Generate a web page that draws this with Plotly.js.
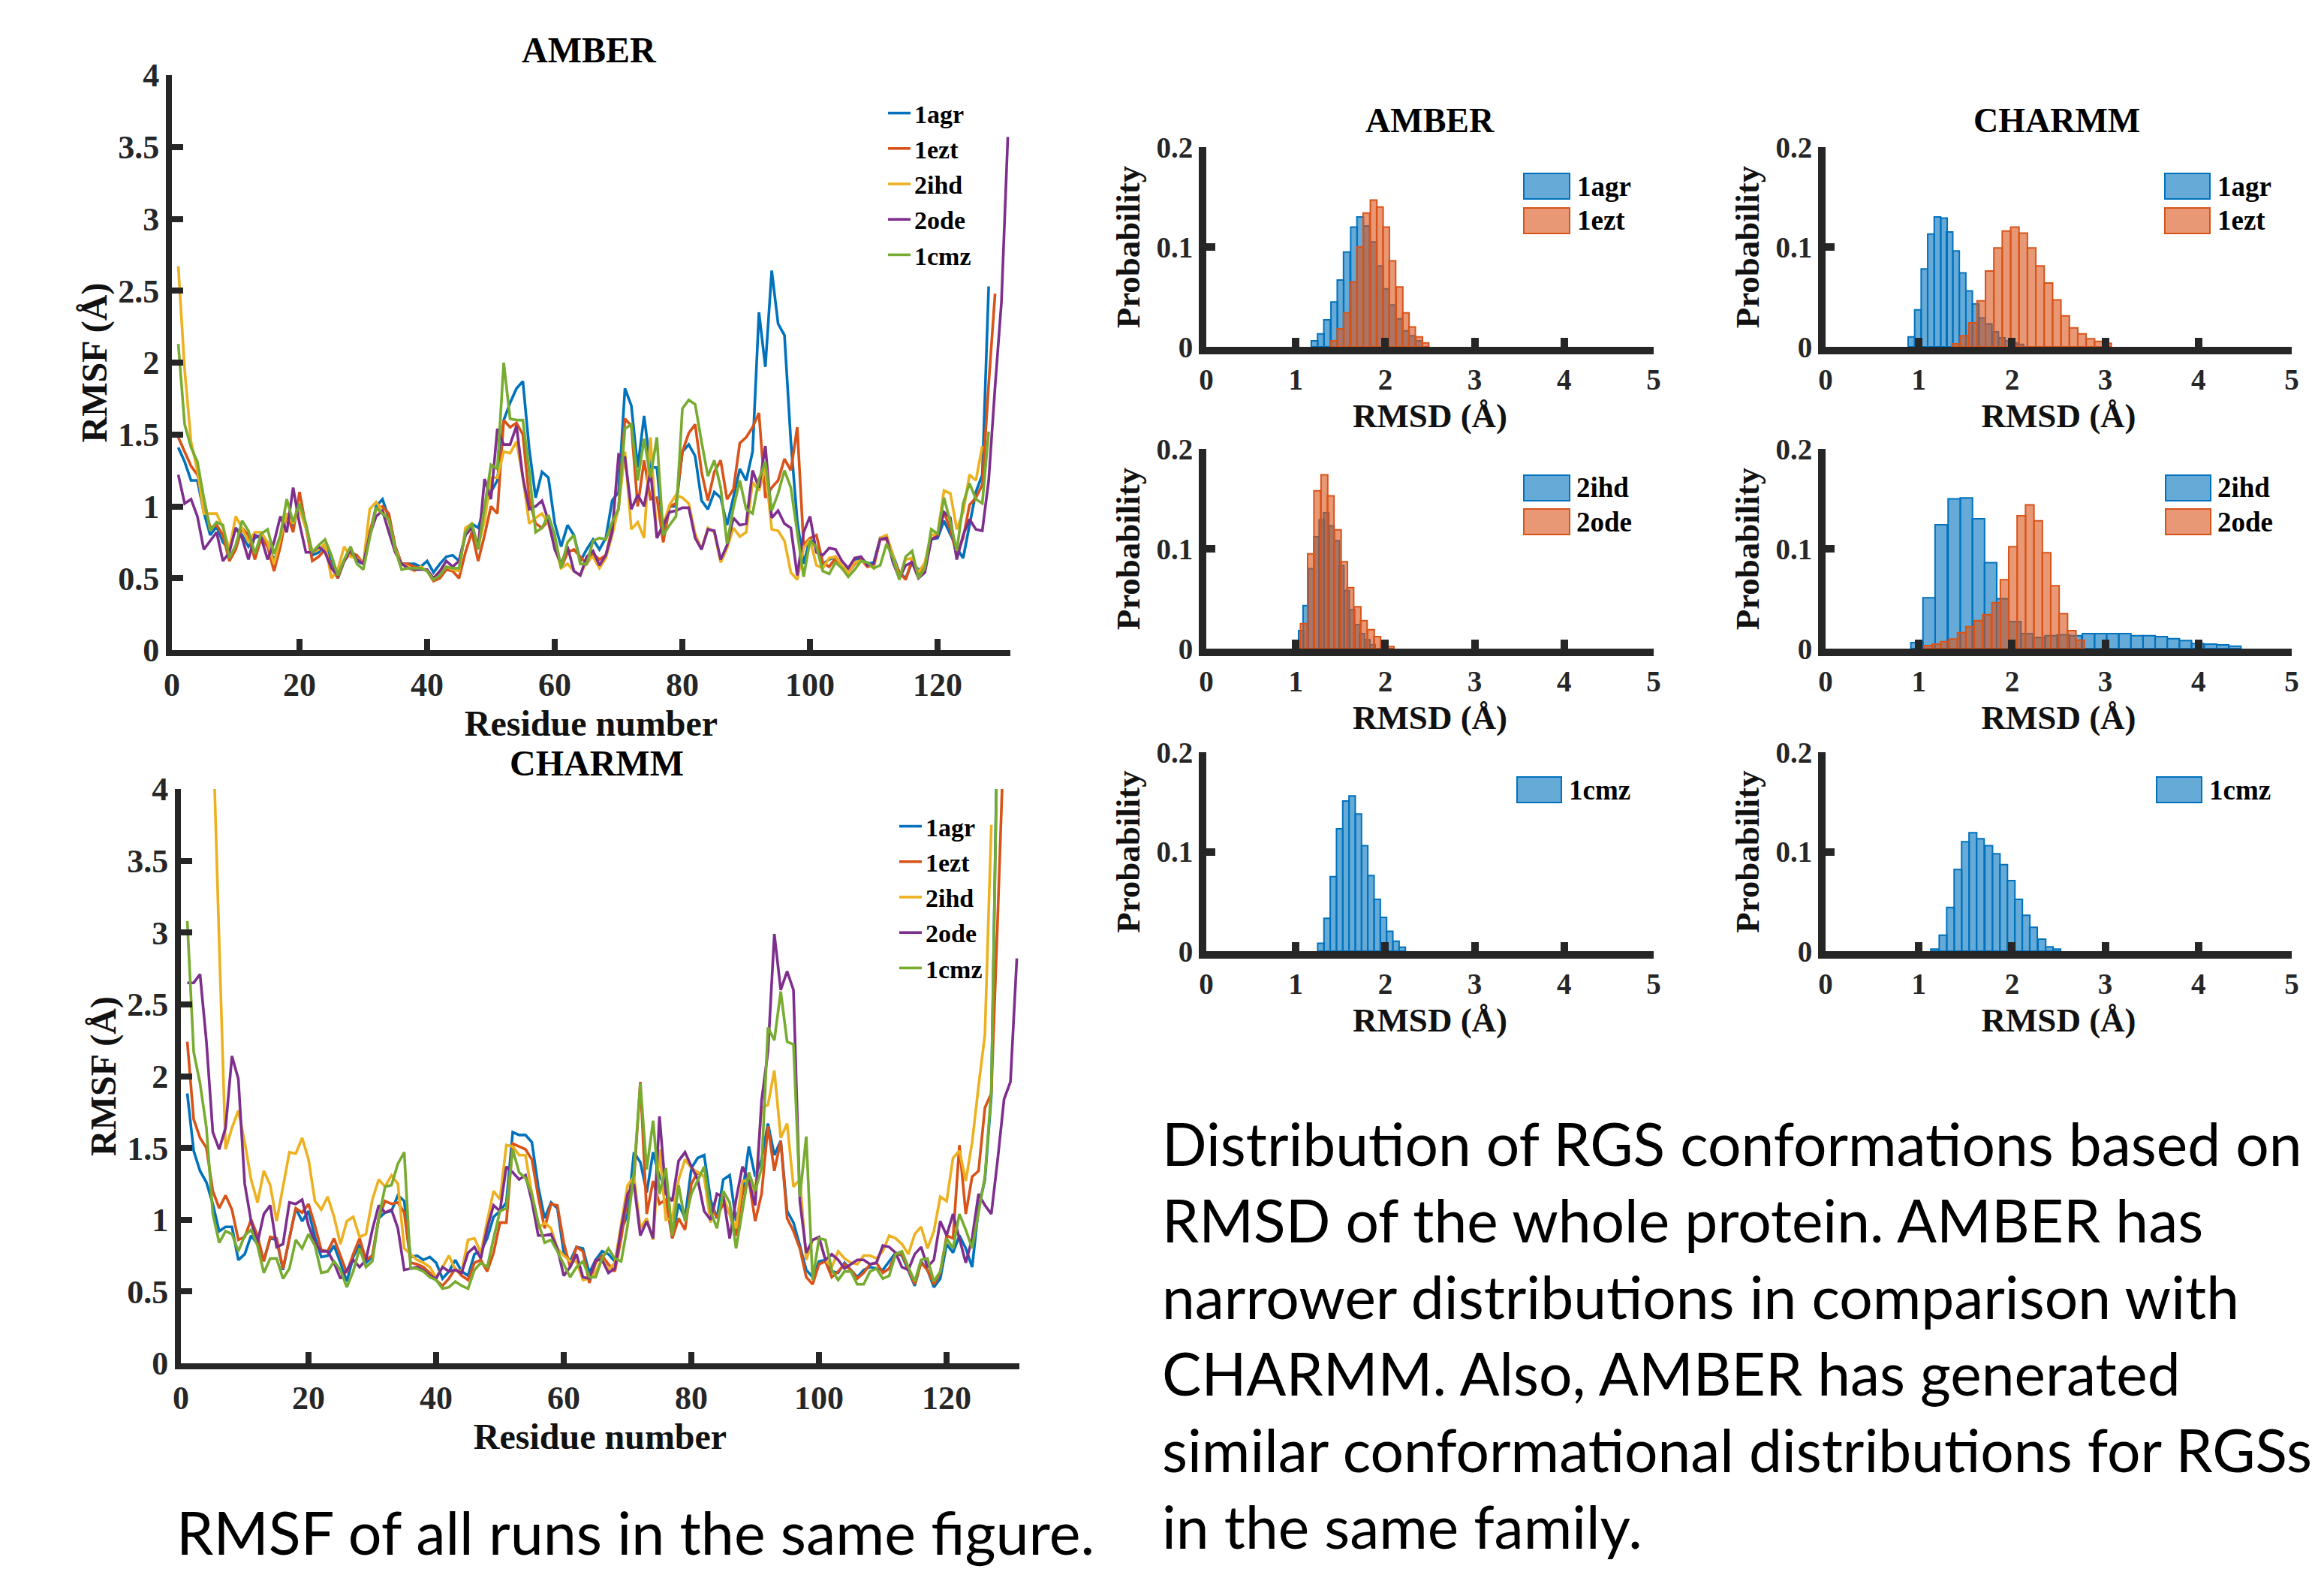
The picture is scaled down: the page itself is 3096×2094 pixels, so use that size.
<!DOCTYPE html>
<html><head><meta charset="utf-8">
<script src="https://cdn.plot.ly/plotly-3.0.1.min.js"></script>
<style>html,body{margin:0;padding:0;background:#fff;}#chart{width:3096px;height:2094px;}</style>
</head><body><div id="chart"></div>
<script>
// ---------------- DATA ----------------
const proteins = ['1agr','1ezt','2ihd','2ode','1cmz'];

// RMSF (Å) per residue, AMBER
const amber1agr = [1.41,1.31,1.18,1.18,0.96,0.80,0.86,0.75,0.70,0.85,
0.80,0.72,0.78,0.80,0.75,0.62,0.75,0.95,0.86,1.00,
0.85,0.66,0.68,0.74,0.60,0.50,0.62,0.68,0.62,0.60,
0.80,1.00,1.05,0.92,0.72,0.60,0.60,0.60,0.58,0.62,
0.54,0.60,0.65,0.66,0.62,0.80,0.88,0.85,1.00,1.10,
1.18,1.60,1.72,1.82,1.87,1.40,1.06,1.24,1.20,0.88,
0.72,0.87,0.80,0.62,0.70,0.77,0.70,0.78,1.04,1.10,
1.82,1.70,1.27,1.63,1.27,1.27,0.82,1.00,1.00,1.38,
1.43,1.35,1.04,0.98,1.10,1.06,0.87,1.06,1.26,1.18,
1.38,2.35,1.97,2.64,2.27,2.19,1.45,0.90,0.60,0.78,
0.71,0.60,0.63,0.65,0.58,0.56,0.63,0.64,0.60,0.61,
0.78,0.78,0.66,0.54,0.50,0.61,0.56,0.57,0.77,0.78,
0.90,0.80,0.71,0.64,0.88,1.10,1.22,2.53];
const amber1ezt = [1.48,1.38,1.28,1.22,1.05,0.85,0.87,0.80,0.62,0.70,
0.85,0.80,0.63,0.78,0.72,0.55,0.72,0.95,0.82,1.10,
0.85,0.62,0.65,0.70,0.58,0.50,0.62,0.68,0.66,0.60,
0.82,0.98,1.00,0.95,0.72,0.60,0.60,0.58,0.57,0.55,
0.48,0.50,0.56,0.55,0.50,0.68,0.82,0.62,0.80,1.00,
0.95,1.60,1.55,1.58,1.50,1.05,0.88,0.85,0.90,0.78,
0.57,0.68,0.70,0.65,0.60,0.67,0.63,0.66,0.85,0.99,
1.61,1.56,1.00,1.32,1.05,1.06,0.75,1.00,1.02,1.38,
1.51,1.57,1.24,1.04,1.24,1.32,1.05,1.12,1.44,1.48,
1.55,1.65,1.06,1.13,1.18,1.33,1.25,1.55,0.73,0.78,
0.80,0.61,0.58,0.64,0.57,0.54,0.60,0.63,0.58,0.59,
0.77,0.77,0.64,0.54,0.49,0.63,0.52,0.59,0.77,0.80,
0.96,0.84,0.66,0.78,1.01,1.06,1.15,1.85,2.48];
const amber2ihd = [2.67,1.95,1.45,1.25,0.95,0.95,0.95,0.85,0.70,0.93,
0.85,0.75,0.82,0.82,0.75,0.60,0.78,0.95,0.88,0.98,
0.85,0.68,0.70,0.74,0.50,0.56,0.72,0.65,0.64,0.60,
0.98,1.03,0.97,0.90,0.70,0.60,0.58,0.55,0.58,0.55,
0.50,0.55,0.58,0.56,0.55,0.85,0.88,0.72,0.90,1.20,
1.20,1.38,1.37,1.45,1.20,0.88,0.92,0.95,0.88,0.72,
0.57,0.60,0.55,0.52,0.62,0.65,0.57,0.64,0.80,0.99,
1.38,0.84,0.89,0.78,1.48,0.78,0.87,1.01,1.08,1.06,
1.02,0.81,0.70,0.85,0.82,0.61,0.71,0.85,0.79,0.82,
1.17,1.11,1.27,0.84,0.83,0.76,0.54,0.49,0.71,0.77,
0.59,0.57,0.64,0.65,0.59,0.54,0.61,0.62,0.60,0.57,
0.78,0.80,0.66,0.50,0.63,0.64,0.54,0.61,0.80,0.81,
1.11,1.09,0.84,0.96,1.22,1.18,1.42];
const amber2ode = [1.22,1.02,1.05,0.93,0.70,0.76,0.82,0.62,0.68,0.85,
0.78,0.63,0.80,0.78,0.63,0.75,0.93,0.82,1.13,0.88,
0.68,0.68,0.72,0.68,0.57,0.52,0.62,0.70,0.63,0.60,
0.80,0.93,0.97,0.82,0.68,0.60,0.57,0.56,0.56,0.56,
0.50,0.55,0.62,0.58,0.62,0.80,0.85,0.72,1.19,1.05,
1.54,1.43,1.43,1.56,1.20,0.98,1.00,1.04,0.90,0.70,
0.60,0.72,0.55,0.52,0.65,0.69,0.59,0.66,0.82,1.36,
1.34,0.98,1.08,1.00,1.25,0.78,0.87,0.96,0.97,0.99,
0.99,0.78,0.70,0.84,0.83,0.63,0.73,0.92,0.87,0.88,
1.25,1.13,1.42,0.92,0.97,0.88,0.85,0.52,0.82,0.93,
0.68,0.66,0.71,0.70,0.62,0.57,0.64,0.65,0.59,0.60,
0.77,0.78,0.61,0.50,0.59,0.61,0.50,0.54,0.77,0.79,
0.96,0.92,0.63,0.80,0.91,0.84,0.83,1.18,1.83,2.42,3.57];
const amber1cmz = [2.13,1.57,1.41,1.31,1.06,0.83,0.89,0.87,0.64,0.73,
0.90,0.83,0.67,0.81,0.84,0.67,0.80,1.05,0.89,1.02,
0.88,0.68,0.73,0.77,0.66,0.52,0.63,0.72,0.60,0.56,
0.78,0.99,0.95,0.91,0.70,0.56,0.57,0.57,0.57,0.55,
0.49,0.52,0.58,0.57,0.57,0.82,0.88,0.70,0.98,1.29,
1.26,2.00,1.61,1.60,1.60,1.24,0.82,0.85,0.94,0.80,
0.57,0.75,0.80,0.60,0.60,0.76,0.78,0.77,0.89,0.98,
1.54,1.57,1.18,1.47,1.20,1.48,0.80,0.87,0.93,1.68,
1.74,1.71,1.45,1.21,1.32,1.13,0.74,0.99,1.18,0.98,
0.95,1.19,1.31,0.97,1.09,1.25,1.13,0.82,0.51,0.76,
0.72,0.55,0.53,0.61,0.57,0.51,0.56,0.62,0.61,0.57,
0.59,0.74,0.64,0.49,0.65,0.69,0.50,0.57,0.84,0.81,
1.06,0.89,0.69,1.02,1.16,1.05,1.02,1.52];

// RMSF (Å) per residue, CHARMM
const charmm1agr = [1.88,1.48,1.34,1.26,1.11,0.92,0.95,0.95,0.72,0.76,
0.89,0.83,0.72,0.87,0.86,0.65,0.87,1.08,0.99,1.06,
0.88,0.74,0.75,0.82,0.70,0.57,0.74,0.83,0.70,0.74,
1.01,1.05,1.06,1.17,1.13,0.74,0.75,0.72,0.74,0.70,
0.59,0.64,0.72,0.64,0.61,0.76,0.78,0.87,1.02,1.06,
1.12,1.61,1.59,1.59,1.54,1.23,1.01,1.12,1.08,0.77,
0.71,0.81,0.80,0.63,0.72,0.78,0.76,0.71,0.92,1.04,
1.47,1.40,1.19,1.47,1.30,1.23,0.88,1.11,1.01,1.36,
1.43,1.45,1.14,1.01,1.28,1.31,0.99,1.18,1.51,1.30,
1.42,1.67,1.45,1.55,1.06,0.98,0.82,0.65,0.60,0.71,
0.72,0.64,0.63,0.70,0.65,0.60,0.65,0.67,0.66,0.65,
0.71,0.77,0.75,0.64,0.54,0.71,0.65,0.53,0.59,0.83,
0.77,0.89,0.80,0.67,1.08,1.28,1.86,4.60];
const charmm1ezt = [2.24,1.70,1.57,1.50,1.20,1.08,1.17,1.07,0.86,0.88,
1.00,0.89,0.71,0.88,0.87,0.66,0.87,1.08,1.05,1.11,
0.96,0.79,0.78,0.87,0.75,0.63,0.76,0.87,0.72,0.75,
1.01,1.13,1.11,1.12,1.05,0.70,0.69,0.67,0.63,0.58,
0.54,0.59,0.66,0.61,0.58,0.70,0.72,0.64,0.77,0.98,
0.98,1.53,1.51,1.49,1.42,1.16,0.94,1.11,1.10,0.84,
0.67,0.81,0.78,0.56,0.70,0.75,0.69,0.64,0.87,1.16,
1.28,1.96,1.04,1.27,1.11,1.14,0.87,1.01,0.93,1.25,
1.33,1.30,1.08,1.02,1.11,1.04,0.89,1.19,1.28,0.99,
1.18,1.65,1.34,1.55,1.01,0.92,0.80,0.60,0.55,0.69,
0.71,0.60,0.64,0.69,0.65,0.59,0.63,0.69,0.70,0.63,
0.66,0.76,0.76,0.65,0.55,0.70,0.65,0.55,0.63,0.89,
0.87,1.52,1.04,1.30,1.34,1.78,1.88,3.10,4.40];
const charmm2ihd = [5.60,5.30,5.00,4.80,4.44,2.93,1.49,1.64,1.76,1.54,
1.28,1.12,1.34,1.24,0.99,1.23,1.47,1.46,1.57,1.42,
1.13,1.07,1.16,1.02,0.83,0.99,1.02,0.88,0.90,1.14,
1.28,1.23,1.31,1.25,0.80,0.76,0.72,0.70,0.67,0.60,
0.67,0.75,0.65,0.64,0.86,0.87,0.77,0.99,1.20,1.14,
1.52,1.51,1.45,1.45,1.18,0.94,0.98,0.94,0.80,0.75,
0.71,0.71,0.58,0.59,0.63,0.73,0.65,0.70,0.96,1.24,
1.30,0.94,1.01,0.86,1.49,1.00,1.01,1.28,1.42,1.36,
1.33,1.30,0.98,1.18,1.16,1.04,0.94,1.27,1.27,1.18,
1.78,1.80,2.04,1.57,1.67,1.23,1.28,0.72,0.86,0.87,
0.72,0.67,0.78,0.73,0.70,0.69,0.75,0.75,0.73,0.78,
0.89,0.87,0.83,0.76,0.90,0.95,0.80,0.92,1.16,1.13,
1.43,1.48,1.27,1.54,1.93,2.29,3.75];
const charmm2ode = [2.65,2.65,2.71,2.24,1.61,1.49,1.64,2.14,1.98,1.25,
0.99,0.84,1.04,1.10,0.81,0.83,1.12,1.11,1.14,0.96,
0.84,0.78,0.78,0.70,0.59,0.65,0.72,0.67,0.72,0.93,
1.10,1.05,1.07,0.94,0.65,0.66,0.67,0.65,0.61,0.59,
0.67,0.64,0.65,0.63,0.77,0.81,0.73,0.94,1.10,1.06,
1.37,1.33,1.28,1.31,1.13,0.89,0.89,0.90,0.80,0.61,
0.67,0.76,0.60,0.59,0.72,0.72,0.63,0.66,0.94,1.18,
1.25,0.89,0.99,0.87,1.72,1.18,1.13,1.41,1.47,1.37,
1.28,1.06,1.00,1.18,1.16,0.87,1.14,1.37,1.27,1.10,
1.83,2.17,2.99,2.60,2.73,2.60,1.13,0.77,0.86,0.88,
0.72,0.76,0.72,0.66,0.69,0.72,0.72,0.69,0.70,0.82,
0.81,0.77,0.67,0.65,0.76,0.81,0.67,0.72,0.99,0.89,
1.04,0.87,0.70,0.87,1.18,1.10,1.04,1.42,1.84,1.96,2.82];
const charmm1cmz = [3.08,2.17,1.95,1.64,1.04,0.84,0.92,0.90,0.78,0.89,
0.93,0.82,0.63,0.73,0.73,0.59,0.66,0.86,0.80,0.90,
0.82,0.63,0.64,0.71,0.65,0.53,0.64,0.80,0.67,0.71,
1.01,1.23,1.24,1.39,1.47,0.66,0.66,0.64,0.60,0.58,
0.52,0.53,0.57,0.54,0.52,0.65,0.70,0.67,0.87,1.06,
1.08,1.49,1.33,1.29,1.18,0.98,0.84,0.86,0.78,0.69,
0.60,0.67,0.71,0.60,0.60,0.73,0.80,0.73,0.71,0.96,
1.33,1.95,1.35,1.69,1.18,1.36,0.89,1.24,0.99,1.18,
1.28,1.37,1.06,0.94,1.20,1.12,0.80,1.06,1.33,1.20,
1.36,2.34,2.25,2.59,2.24,2.22,1.16,1.58,0.58,0.87,
0.86,0.65,0.58,0.64,0.64,0.55,0.55,0.64,0.66,0.59,
0.61,0.76,0.78,0.67,0.57,0.72,0.73,0.57,0.64,0.87,
0.80,1.04,0.93,0.80,1.06,1.30,1.90,4.50];

// RMSD histograms: bin centres (Å), probabilities, bin widths (Å)
const amberAgrX = [1.21,1.28,1.35,1.43,1.50,1.57,1.65,1.72,1.79,1.87,1.94,2.01,2.08,2.16,2.23,2.30,2.38];
const amberAgrP = [0.006,0.013,0.027,0.045,0.067,0.095,0.120,0.130,0.121,0.105,0.081,0.058,0.042,0.028,0.016,0.011,0.006];
const amberAgrW = 0.073;
const amberEztX = [1.43,1.50,1.57,1.65,1.72,1.79,1.87,1.94,2.01,2.08,2.16,2.23,2.30,2.38,2.45];
const amberEztP = [0.006,0.018,0.034,0.065,0.100,0.134,0.147,0.140,0.120,0.086,0.060,0.034,0.020,0.010,0.004];
const amberEztW = 0.073;
const charmmAgrX = [0.92,0.99,1.06,1.13,1.20,1.27,1.33,1.40,1.47,1.54,1.61,1.68,1.75,1.82,1.89,1.96,2.03,2.09];
const charmmAgrP = [0.010,0.037,0.078,0.113,0.130,0.129,0.115,0.096,0.074,0.056,0.043,0.029,0.023,0.015,0.009,0.006,0.004,0.0025];
const charmmAgrW = 0.069;
const charmmEztX = [1.40,1.49,1.58,1.67,1.76,1.85,1.94,2.03,2.12,2.21,2.30,2.39,2.48,2.57,2.66,2.75,2.84,2.93,3.02];
const charmmEztP = [0.003,0.011,0.024,0.046,0.076,0.099,0.116,0.120,0.114,0.099,0.081,0.064,0.047,0.031,0.019,0.013,0.008,0.0055,0.0035];
const charmmEztW = 0.090;
const amberIhdX = [1.06,1.11,1.17,1.23,1.29,1.34,1.40,1.46,1.51,1.57,1.63,1.69,1.74,1.80,1.86];
const amberIhdP = [0.018,0.043,0.080,0.112,0.129,0.136,0.123,0.108,0.083,0.058,0.039,0.024,0.015,0.009,0.004];
const amberIhdW = 0.057;
const amberOdeX = [1.09,1.17,1.24,1.32,1.39,1.47,1.54,1.61,1.69,1.76,1.84,1.91,1.99,2.06];
const amberOdeP = [0.025,0.095,0.158,0.174,0.153,0.119,0.087,0.061,0.042,0.028,0.019,0.012,0.004,0.002];
const amberOdeW = 0.075;
const charmmIhdX = [0.98,1.11,1.24,1.38,1.51,1.64,1.77,1.90,2.03,2.16,2.29,2.42,2.55,2.68,2.82,2.95,3.08,3.21,3.34,3.47,3.60,3.73,3.86,3.99,4.13,4.26,4.39];
const charmmIhdP = [0.006,0.051,0.124,0.150,0.151,0.130,0.086,0.050,0.027,0.015,0.011,0.013,0.014,0.013,0.015,0.015,0.015,0.015,0.013,0.013,0.012,0.010,0.008,0.005,0.0046,0.0038,0.0025];
const charmmIhdW = 0.131;
const charmmOdeX = [1.10,1.19,1.28,1.37,1.46,1.55,1.64,1.73,1.83,1.92,2.01,2.10,2.19,2.28,2.37,2.46,2.55,2.64,2.73];
const charmmOdeP = [0.003,0.0046,0.007,0.0096,0.016,0.022,0.028,0.034,0.046,0.069,0.102,0.133,0.144,0.128,0.096,0.063,0.035,0.018,0.0084];
const charmmOdeW = 0.091;
const amberCmzX = [1.28,1.35,1.42,1.49,1.56,1.63,1.70,1.77,1.84,1.91,1.98,2.05,2.12,2.19];
const amberCmzP = [0.008,0.033,0.075,0.123,0.151,0.156,0.138,0.106,0.076,0.052,0.034,0.020,0.010,0.004];
const amberCmzW = 0.070;
const charmmCmzX = [1.17,1.26,1.34,1.42,1.50,1.58,1.66,1.75,1.83,1.91,1.99,2.07,2.15,2.23,2.32,2.40,2.48];
const charmmCmzP = [0.002,0.016,0.044,0.082,0.110,0.119,0.113,0.106,0.098,0.087,0.071,0.052,0.036,0.024,0.012,0.0044,0.002];
const charmmCmzW = 0.082;

const captionLeft = 'RMSF of all runs in the same figure.';
const captionRight = ['Distribution of RGS conformations based on','RMSD of the whole protein. AMBER has','narrower distributions in comparison with','CHARMM. Also, AMBER has generated','similar conformational distributions for RGSs','in the same family.'];

// ---------------- STYLE / LAYOUT ----------------
const W = 3096, H = 2094;
const fx = p => p / W, fy = p => 1 - p / H;
const SERIF = 'Liberation Serif, Times New Roman, serif';
const SANS = 'Lato, Noto Sans, sans-serif';
const INK = '#262626';
const colors = {'1agr':'#0072BD','1ezt':'#D95319','2ihd':'#EDB120','2ode':'#7E2F8E','1cmz':'#77AC30'};
const BLUE = '#0072BD', BLUEF = 'rgba(0,114,189,0.6)', ORANGE = '#D95319', ORANGEF = 'rgba(217,83,25,0.6)';

const residues = n => Array.from({length:n}, (_, i) => i + 1);

const traces = [];
const amberSets = [amber1agr, amber1ezt, amber2ihd, amber2ode, amber1cmz];
const charmmSets = [charmm1agr, charmm1ezt, charmm2ihd, charmm2ode, charmm1cmz];
proteins.forEach((p, i) => {
  traces.push({type:'scatter', mode:'lines', name:p, x:residues(amberSets[i].length), y:amberSets[i],
    xaxis:'x', yaxis:'y', legend:'legend', line:{color:colors[p], width:3.6}});
});
proteins.forEach((p, i) => {
  traces.push({type:'scatter', mode:'lines', name:p, x:residues(charmmSets[i].length), y:charmmSets[i],
    xaxis:'x2', yaxis:'y2', legend:'legend2', line:{color:colors[p], width:3.6}});
});

function hist(name, x, y, w, ax, blue) {
  return {type:'bar', name, x, y, width:w, xaxis:'x'+ax, yaxis:'y'+ax, showlegend:false,
    marker:{color: blue ? BLUEF : ORANGEF, line:{color: blue ? BLUE : ORANGE, width:2}}};
}
traces.push(hist('1agr', amberAgrX, amberAgrP, amberAgrW, 3, true));
traces.push(hist('1ezt', amberEztX, amberEztP, amberEztW, 3, false));
traces.push(hist('1agr', charmmAgrX, charmmAgrP, charmmAgrW, 4, true));
traces.push(hist('1ezt', charmmEztX, charmmEztP, charmmEztW, 4, false));
traces.push(hist('2ihd', amberIhdX, amberIhdP, amberIhdW, 5, true));
traces.push(hist('2ode', amberOdeX, amberOdeP, amberOdeW, 5, false));
traces.push(hist('2ihd', charmmIhdX, charmmIhdP, charmmIhdW, 6, true));
traces.push(hist('2ode', charmmOdeX, charmmOdeP, charmmOdeW, 6, false));
traces.push(hist('1cmz', amberCmzX, amberCmzP, amberCmzW, 7, true));
traces.push(hist('1cmz', charmmCmzX, charmmCmzP, charmmCmzW, 8, true));

const bold = (size, color) => ({family:SERIF, size, weight:'bold', color: color || INK});

function lineX(domain, anchor) {
  return {domain, anchor, range:[0,131.4], tick0:0, dtick:20, showline:true, linewidth:8, linecolor:INK,
    ticks:'inside', ticklen:15, tickwidth:8, tickcolor:INK, showgrid:false, zeroline:false,
    tickfont:bold(44), title:{text:'Residue number', font:bold(48, '#111'), standoff:8}};
}
function lineY(domain, anchor) {
  return {domain, anchor, range:[0,4], tick0:0, dtick:0.5, showline:true, linewidth:8, linecolor:INK,
    ticks:'inside', ticklen:15, tickwidth:8, tickcolor:INK, showgrid:false, zeroline:false,
    tickfont:bold(44), title:{text:'RMSF (Å)', font:bold(48, '#111'), standoff:2}};
}
function histX(domain, anchor) {
  return {domain, anchor, range:[0,5], tick0:0, dtick:1, showline:true, linewidth:10, linecolor:INK,
    ticks:'inside', ticklen:12, tickwidth:10, tickcolor:INK, showgrid:false, zeroline:false,
    tickfont:bold(39), title:{text:'RMSD (Å)', font:bold(45, '#111'), standoff:16}};
}
function histY(domain, anchor) {
  return {domain, anchor, range:[0,0.2], tick0:0, dtick:0.1, showline:true, linewidth:10, linecolor:INK,
    ticks:'inside', ticklen:12, tickwidth:10, tickcolor:INK, showgrid:false, zeroline:false,
    tickfont:bold(39), title:{text:'Probability', font:bold(45, '#111'), standoff:12}};
}

const colA = [fx(1607), fx(2203)], colC = [fx(2432), fx(3053)];
const row1 = [fy(462), fy(196)], row2 = [fy(864), fy(598)], row3 = [fy(1267), fy(1002)];

const annotations = [];
const ann = (text, x, y, font, xanchor) => annotations.push({text, x:fx(x), y:fy(y), xref:'paper', yref:'paper',
  showarrow:false, xanchor: xanchor || 'center', yanchor:'middle', font});
ann('AMBER', 785, 66, bold(48, '#000'));
ann('CHARMM', 795, 1016, bold(48, '#000'));
ann('AMBER', 1905, 160, bold(46, '#000'));
ann('CHARMM', 2740, 160, bold(46, '#000'));
captionRight.forEach((t, i) => ann(t, 1546, 1523 + i * 102, {family:SANS, size:78.5, color:'#000'}, 'left'));
ann(captionLeft, 233, 2040, {family:SANS, size:79, color:'#000'}, 'left');

// histogram legends (boxes + labels)
const shapes = [];
const histLegends = [
  {box:[2030,2091], tx:2099, items:[['1agr',BLUE,BLUEF,248],['1ezt',ORANGE,ORANGEF,294]]},
  {box:[2884,2944], tx:2952, items:[['1agr',BLUE,BLUEF,248],['1ezt',ORANGE,ORANGEF,294]]},
  {box:[2030,2091], tx:2098, items:[['2ihd',BLUE,BLUEF,650],['2ode',ORANGE,ORANGEF,695]]},
  {box:[2885,2945], tx:2952, items:[['2ihd',BLUE,BLUEF,650],['2ode',ORANGE,ORANGEF,695]]},
  {box:[2021,2080], tx:2088, items:[['1cmz',BLUE,BLUEF,1052]]},
  {box:[2873,2933], tx:2941, items:[['1cmz',BLUE,BLUEF,1052]]}
];
histLegends.forEach(L => L.items.forEach(([name, lc, fc, yc]) => {
  shapes.push({type:'rect', xref:'paper', yref:'paper', x0:fx(L.box[0]), x1:fx(L.box[1]), y0:fy(yc+17), y1:fy(yc-17),
    line:{color:lc, width:2}, fillcolor:fc});
  ann(name, L.tx, yc, bold(37, '#000'), 'left');
}));

const legendStyle = (x, y) => ({x:fx(x), y:fy(y), xanchor:'left', yanchor:'top', bgcolor:'rgba(0,0,0,0)',
  borderwidth:0, font:bold(34, '#000'), tracegroupgap:0, itemwidth:30});

const layout = {
  width:W, height:H, margin:{l:0,r:0,t:0,b:0}, paper_bgcolor:'#fff', plot_bgcolor:'rgba(0,0,0,0)',
  barmode:'overlay', showlegend:true,
  xaxis: lineX([fx(229), fx(1346)], 'y'),
  yaxis: lineY([fy(866), fy(100)], 'x'),
  xaxis2: lineX([fx(241), fx(1358)], 'y2'),
  yaxis2: lineY([fy(1816), fy(1051)], 'x2'),
  xaxis3: histX(colA, 'y3'), yaxis3: histY(row1, 'x3'),
  xaxis4: histX(colC, 'y4'), yaxis4: histY(row1, 'x4'),
  xaxis5: histX(colA, 'y5'), yaxis5: histY(row2, 'x5'),
  xaxis6: histX(colC, 'y6'), yaxis6: histY(row2, 'x6'),
  xaxis7: histX(colA, 'y7'), yaxis7: histY(row3, 'x7'),
  xaxis8: histX(colC, 'y8'), yaxis8: histY(row3, 'x8'),
  legend: legendStyle(1178, 122),
  legend2: legendStyle(1193, 1072),
  annotations, shapes
};

Plotly.newPlot('chart', traces, layout, {staticPlot:true, displayModeBar:false});
</script></body></html>
